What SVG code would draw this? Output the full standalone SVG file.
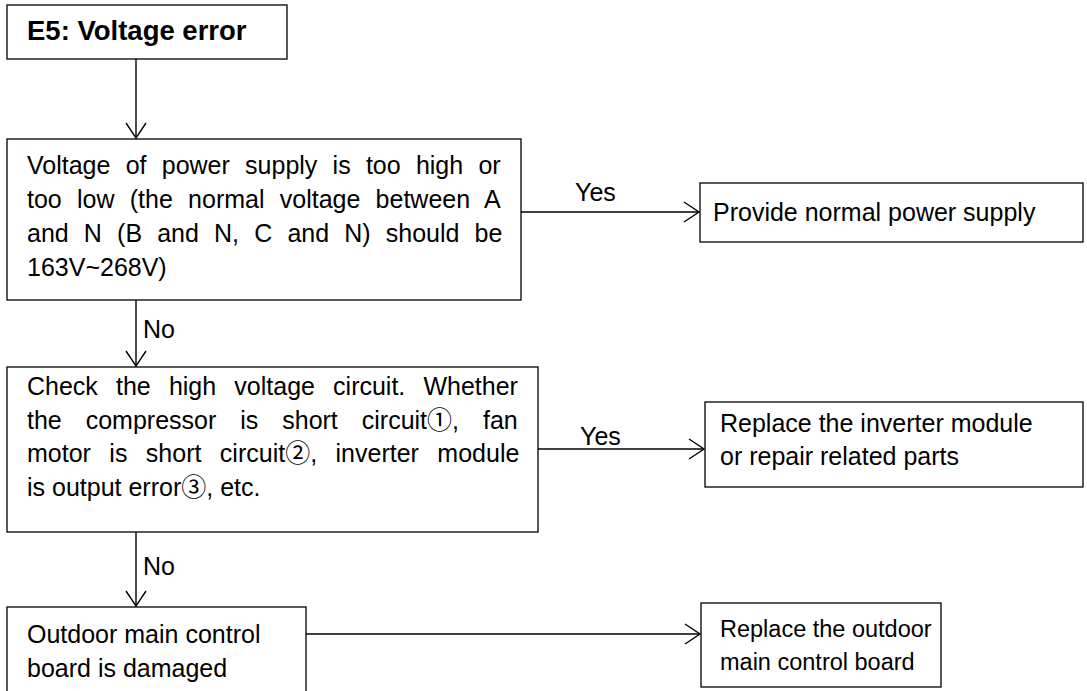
<svg xmlns="http://www.w3.org/2000/svg" width="1087" height="691" viewBox="0 0 1087 691">
  <defs>
    <style>
      .box { fill: #ffffff; stroke: #000000; stroke-width: 1.3; }
      .t { font-family: "Liberation Sans", Arial, "Noto Sans CJK SC", sans-serif; font-size: 25px; fill: #000000; }
      .title { font-weight: bold; font-size: 27.5px; }
      .small { font-size: 23.5px; }
      .link { stroke: #000000; stroke-width: 1.4; fill: none; marker-end: url(#open); }
    </style>
    <!-- open V-shaped arrowhead -->
    <marker id="open" markerUnits="userSpaceOnUse" viewBox="-17 -11 19 22" markerWidth="19" markerHeight="22" refX="0" refY="0" orient="auto" overflow="visible">
      <path d="M-15,-10 L0,0 L-15,10" fill="none" stroke="#000000" stroke-width="1.4"/>
    </marker>
  </defs>
  <rect width="1087" height="691" fill="#ffffff"/>

  <g id="connectors">
    <line class="link" x1="136" y1="59" x2="136" y2="138"/>
    <line class="link" x1="521" y1="212" x2="699" y2="212"/>
    <line class="link" x1="136" y1="300" x2="136" y2="366"/>
    <line class="link" x1="538" y1="449" x2="704" y2="449"/>
    <line class="link" x1="136" y1="532" x2="136" y2="606"/>
    <line class="link" x1="306" y1="634" x2="700" y2="634"/>
    <text class="t" x="575" y="201">Yes</text>
    <text class="t" x="580" y="445">Yes</text>
    <text class="t" x="143" y="338">No</text>
    <text class="t" x="143" y="575">No</text>
  </g>

  <g id="start">
    <rect class="box" x="7" y="5" width="280" height="54"/>
    <text class="t title" x="27" y="40">E5: Voltage error</text>
  </g>

  <g id="check-voltage">
    <rect class="box" x="7" y="139" width="514" height="161"/>
    <text class="t" x="27" y="174" word-spacing="8.3">Voltage of power supply is too high or</text>
    <text class="t" x="27" y="208" word-spacing="8.3">too low (the normal voltage between A</text>
    <text class="t" x="27" y="242" word-spacing="8.2">and N (B and N, C and N) should be</text>
    <text class="t" x="27" y="276">163V~268V)</text>
  </g>

  <g id="provide-power">
    <rect class="box" x="700" y="183" width="383" height="59"/>
    <text class="t" x="713" y="221">Provide normal power supply</text>
  </g>

  <g id="check-circuit">
    <rect class="box" x="7" y="367" width="531" height="165"/>
    <text class="t" x="27" y="395" word-spacing="11.2">Check the high voltage circuit. Whether</text>
    <text class="t" x="27" y="429" word-spacing="17">the compressor is short circuit①, fan</text>
    <text class="t" x="27" y="462" word-spacing="11.5">motor is short circuit②, inverter module</text>
    <text class="t" x="27" y="496">is output error③, etc.</text>
  </g>

  <g id="replace-module">
    <rect class="box" x="705" y="402" width="378" height="85"/>
    <text class="t" x="720" y="432">Replace the inverter module</text>
    <text class="t" x="720" y="465">or repair related parts</text>
  </g>

  <g id="board-damaged">
    <rect class="box" x="7" y="607" width="299" height="90"/>
    <text class="t" x="27" y="643">Outdoor main control</text>
    <text class="t" x="27" y="677">board is damaged</text>
  </g>

  <g id="replace-board">
    <rect class="box" x="701" y="603" width="240" height="84"/>
    <text class="t small" x="720" y="637">Replace the outdoor</text>
    <text class="t small" x="720" y="670">main control board</text>
  </g>
</svg>
